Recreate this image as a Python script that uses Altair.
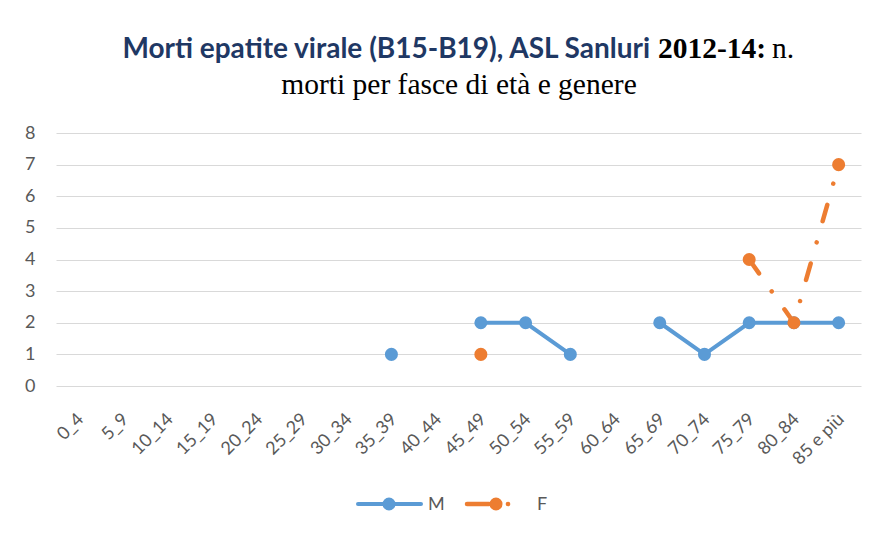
import altair as alt
import pandas as pd

categories = ["0_4", "5_9", "10_14", "15_19", "20_24", "25_29", "30_34", "35_39",
              "40_44", "45_49", "50_54", "55_59", "60_64", "65_69", "70_74",
              "75_79", "80_84", "85 e più"]
m_values = [None, None, None, None, None, None, None, 1, None, 2, 2, 1, None, 2, 1, 2, 2, 2]
f_values = [None, None, None, None, None, None, None, None, None, 1, None, None, None, None, None, 4, 2, 7]
y_ticks = [0, 1, 2, 3, 4, 5, 6, 7, 8]

title_blue = "Morti epatite virale (B15-B19), ASL Sanluri"
title_bold = "2012-14:"
title_n = "n."
title_line2 = "morti per fasce di età e genere"

M_COLOR = "#5B9BD5"
F_COLOR = "#ED7D31"
TXT = "#595959"

rows = []
for c, m, f in zip(categories, m_values, f_values):
    rows.append({"cat": c, "series": "M", "value": m})
    rows.append({"cat": c, "series": "F", "value": f})
df = pd.DataFrame(rows)

x_enc = alt.X("cat:O", sort=categories,
              scale=alt.Scale(domain=categories, type="point", padding=0.5),
              axis=alt.Axis(labelAngle=-45, domain=False, ticks=False, grid=False,
                            labelFontSize=18, labelColor=TXT, labelFont="Lato",
                            labelPadding=24, labelOffset=-4, title=None))
y_enc = alt.Y("value:Q", scale=alt.Scale(domain=[0, 8], nice=False),
              axis=alt.Axis(values=y_ticks, grid=True, gridColor="#d9d9d9", gridWidth=1.2,
                            domain=False, ticks=False, labelFontSize=18, labelColor=TXT,
                            labelFont="Lato", labelPadding=21, title=None))

base = alt.Chart(df).encode(x=x_enc, y=y_enc)

m_line = base.transform_filter(alt.datum.series == "M").mark_line(
    color=M_COLOR, strokeWidth=4, invalid="break-paths-show-domains")
m_pts = base.transform_filter(alt.datum.series == "M").transform_filter(
    "isValid(datum.value)").mark_circle(color=M_COLOR, size=170, opacity=1)
f_line = base.transform_filter(alt.datum.series == "F").mark_line(
    color=F_COLOR, strokeWidth=4.5, strokeDash=[17, 22, 0.01, 22], strokeCap="round",
    invalid="break-paths-show-domains")
f_pts = base.transform_filter(alt.datum.series == "F").transform_filter(
    "isValid(datum.value)").mark_circle(color=F_COLOR, size=170, opacity=1)

one = pd.DataFrame({"k": [0]})

t1 = alt.Chart(one).mark_text(text=title_blue, font="Lato", fontWeight="bold", fontSize=28,
                              color="#1F3864", align="right", baseline="alphabetic").encode(
    x=alt.value(594), y=alt.value(-75))
t2 = alt.Chart(one).mark_text(text=title_bold, font="Liberation Serif", fontWeight="bold",
                              fontSize=29.5, color="#000000", align="left",
                              baseline="alphabetic").encode(x=alt.value(602), y=alt.value(-75))
t3 = alt.Chart(one).mark_text(text=title_n, font="Liberation Serif", fontSize=29.5,
                              color="#000000", align="left", baseline="alphabetic").encode(
    x=alt.value(716), y=alt.value(-75))
t4 = alt.Chart(one).mark_text(text=title_line2, font="Liberation Serif", fontSize=29.5,
                              color="#000000", align="center", baseline="alphabetic").encode(
    x=alt.value(403), y=alt.value(-39))

# legend
lg_m_line = alt.Chart(one).mark_rule(color=M_COLOR, strokeWidth=4, strokeCap="round").encode(
    x=alt.value(302), x2=alt.value(365), y=alt.value(371))
lg_m_pt = alt.Chart(one).mark_circle(color=M_COLOR, size=170, opacity=1).encode(
    x=alt.value(333), y=alt.value(371))
lg_m_txt = alt.Chart(one).mark_text(text="M", font="Lato", fontSize=18, color=TXT,
                                    align="left", baseline="middle").encode(
    x=alt.value(372), y=alt.value(372))
lg_f_line = alt.Chart(one).mark_rule(color=F_COLOR, strokeWidth=4.5, strokeCap="round").encode(
    x=alt.value(411), x2=alt.value(433), y=alt.value(371))
lg_f_pt = alt.Chart(one).mark_circle(color=F_COLOR, size=170, opacity=1).encode(
    x=alt.value(440), y=alt.value(371))
lg_f_dot = alt.Chart(one).mark_circle(color=F_COLOR, size=22, opacity=1).encode(
    x=alt.value(452), y=alt.value(371))
lg_f_txt = alt.Chart(one).mark_text(text="F", font="Lato", fontSize=18, color=TXT,
                                    align="left", baseline="middle").encode(
    x=alt.value(481), y=alt.value(372))

chart = alt.layer(
    m_line, m_pts, f_line, f_pts,
    t1, t2, t3, t4,
    lg_m_line, lg_m_pt, lg_m_txt, lg_f_line, lg_f_pt, lg_f_dot, lg_f_txt
).properties(
    width=805, height=253,
    autosize=alt.AutoSizeParams(type="none"),
    padding={"left": 48, "top": 125, "right": 5, "bottom": 139},
    background="white"
).configure_view(stroke=None)

chart.save("out.html", embed_options={"renderer": "svg", "actions": False})
